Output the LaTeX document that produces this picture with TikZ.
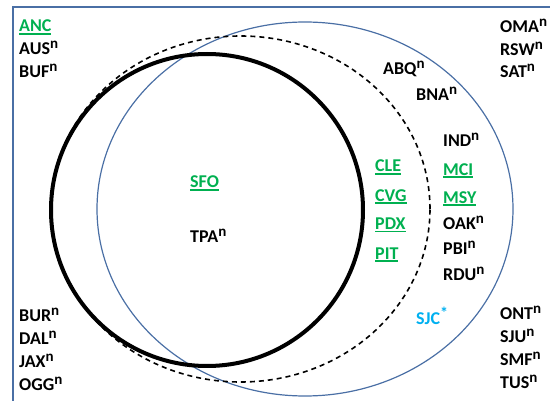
\documentclass[tikz,border=0pt]{standalone}
\usepackage{fontspec}
\setmainfont{Carlito}
\usetikzlibrary{positioning}

\definecolor{hubgreen}{HTML}{00B050}
\definecolor{sjcblue}{HTML}{00B0F0}
\definecolor{frameblue}{HTML}{4A6FA5}

% small raised marks after an airport code
\newcommand{\nflag}{\raisebox{6pt}{\fontsize{15}{15}\selectfont n}}
\newcommand{\starflag}{\raisebox{6.5pt}{\fontsize{16}{16}\selectfont *}}
% thick underline for the hub codes
\newcommand{\hub}[1]{\vtop{\hbox{#1}\kern0.8pt\hrule height 1.6pt}}

\begin{document}
\begin{tikzpicture}[
  x=1pt, y=-1pt,
  code/.style={font=\fontsize{18}{22}\selectfont\bfseries, inner sep=0pt,
               anchor=base west},
  hubcode/.style={code, text=hubgreen},
  ring/.style={line width=4pt},
  reach/.style={dash pattern=on 5pt off 4pt, line width=1.6pt},
  served/.style={draw=frameblue, line width=1.2pt}
]
\useasboundingbox (0,0) rectangle (550,401);
\begin{scope}
  \clip (0,0) rectangle (550,401);
  \draw[frameblue, line width=1.5pt] (13,7) rectangle (580,430);
\end{scope}

% the three regions
\draw[served] (305,209) ellipse [x radius=208pt, y radius=187pt];
\draw[reach] (240.5,209) ellipse [x radius=189.5pt, y radius=173pt];
\draw[ring] (207,210) circle [radius=156pt];

% outside, top left
\node[hubcode] (anc) at (19,32) {\hub{ANC}};
\node[code, below=23pt of anc.base west, anchor=base west] (aus) {AUS\nflag};
\node[code, below=23pt of aus.base west, anchor=base west] (buf) {BUF\nflag};

% outside, top right
\node[code] (oma) at (500,33) {OMA\nflag};
\node[code, below=22.5pt of oma.base west, anchor=base west] (rsw) {RSW\nflag};
\node[code, below=22.5pt of rsw.base west, anchor=base west] (sat) {SAT\nflag};

% outside, bottom left
\node[code] (bur) at (19,322) {BUR\nflag};
\node[code, below=22.7pt of bur.base west, anchor=base west] (dal) {DAL\nflag};
\node[code, below=22.7pt of dal.base west, anchor=base west] (jax) {JAX\nflag};
\node[code, below=22.7pt of jax.base west, anchor=base west] (ogg) {OGG\nflag};

% outside, bottom right
\node[code] (ont) at (500,320) {ONT\nflag};
\node[code, below=22.7pt of ont.base west, anchor=base west] (sju) {SJU\nflag};
\node[code, below=22.7pt of sju.base west, anchor=base west] (smf) {SMF\nflag};
\node[code, below=22.7pt of smf.base west, anchor=base west] (tus) {TUS\nflag};

% inside the blue ellipse only
\node[code] (abq) at (383,75) {ABQ\nflag};
\node[code] (bna) at (416,101) {BNA\nflag};
\node[code] (ind) at (443,147) {IND\nflag};
\node[hubcode, below=28.5pt of ind.base west, anchor=base west] (mci) {\hub{MCI}};
\node[hubcode, below=28pt of mci.base west, anchor=base west] (msy) {\hub{MSY}};
\node[code, below=26pt of msy.base west, anchor=base west] (oak) {OAK\nflag};
\node[code, below=25.5pt of oak.base west, anchor=base west] (pbi) {PBI\nflag};
\node[code, below=26pt of pbi.base west, anchor=base west] (rdu) {RDU\nflag};
\node[code, text=sjcblue] (sjc) at (416,325) {SJC\starflag};

% between the circle and the dashed line
\node[hubcode] (cle) at (375,172) {\hub{CLE}};
\node[hubcode, below=29.5pt of cle.base west, anchor=base west] (cvg) {\hub{CVG}};
\node[hubcode, below=28.5pt of cvg.base west, anchor=base west] (pdx) {\hub{PDX}};
\node[hubcode, below=29.5pt of pdx.base west, anchor=base west] (pit) {\hub{PIT}};

% inside the circle
\node[hubcode] (sfo) at (190,188) {\hub{SFO}};
\node[code, below=55pt of sfo.base west, anchor=base west] (tpa) {TPA\nflag};
\end{tikzpicture}
\end{document}
